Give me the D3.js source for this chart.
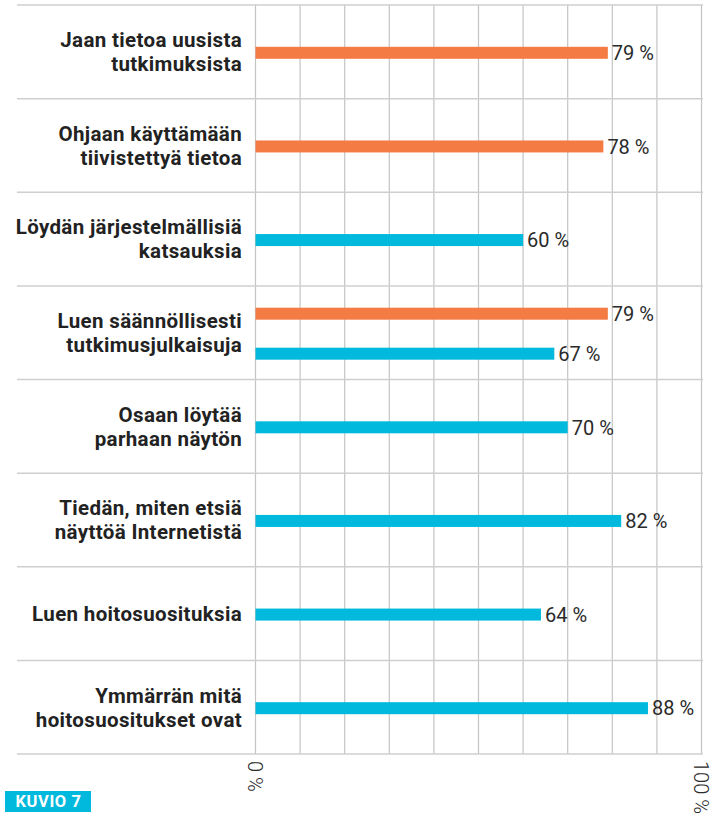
<!DOCTYPE html>
<html>
<head>
<meta charset="utf-8">
<script src="https://cdn.jsdelivr.net/npm/d3@7"></script>
<style>
  body { margin: 0; background: #fff; }
  svg { display: block; }
</style>
</head>
<body>
<div id="chart"></div>
<script>
// row labels, "\n" marks the line break
var categories = [
    "Jaan tietoa uusista\ntutkimuksista",
    "Ohjaan käyttämään\ntiivistettyä tietoa",
    "Löydän järjestelmällisiä\nkatsauksia",
    "Luen säännöllisesti\ntutkimusjulkaisuja",
    "Osaan löytää\nparhaan näytön",
    "Tiedän, miten etsiä\nnäyttöä Internetistä",
    "Luen hoitosuosituksia",
    "Ymmärrän mitä\nhoitosuositukset ovat"
];
var orangeValues = [79, 78, null, 79, null, null, null, null];
var blueValues   = [null, null, 60, 67, 70, 82, 64, 88];
var gridTicks = [0, 10, 20, 30, 40, 50, 60, 70, 80, 90, 100];
var axisLabels = [0, 100];
var figureTag = "KUVIO 7";

var W = 713, H = 817;
var orange = "#f47c44", blue = "#00b9dd";

var svg = d3.select("#chart").append("svg")
    .attr("width", W)
    .attr("height", H);

var x = d3.scaleLinear().domain([0, 100]).range([255.5, 701.5]);
var y = d3.scaleBand().domain(d3.range(categories.length)).range([5, 754]);

// vertical grid
svg.append("g").selectAll("line")
    .data(gridTicks)
    .join("line")
    .attr("x1", d => x(d)).attr("x2", d => x(d))
    .attr("y1", y.range()[0]).attr("y2", y.range()[1])
    .attr("stroke", "#c4c4c4")
    .attr("stroke-width", 1.2);

// row separators
var bounds = d3.range(categories.length + 1).map(i => 5 + i * y.step());
svg.append("g").selectAll("line")
    .data(bounds)
    .join("line")
    .attr("x1", 17).attr("x2", 703)
    .attr("y1", d => d).attr("y2", d => d)
    .attr("stroke", "#cfcfcf")
    .attr("stroke-width", 1.5);

// row labels
var labels = svg.append("g").selectAll("text")
    .data(categories)
    .join("text")
    .attr("text-anchor", "end")
    .attr("font-family", "Roboto, sans-serif")
    .attr("font-weight", "bold")
    .attr("font-size", 20.5)
    .attr("letter-spacing", 0.35)
    .attr("fill", "#222");

labels.each(function (d, i) {
    var lines = d.split("\n");
    var cy = y(i) + y.bandwidth() / 2;
    var start = cy - (lines.length - 1) * 12;
    d3.select(this).selectAll("tspan")
        .data(lines)
        .join("tspan")
        .attr("x", 242)
        .attr("y", (l, j) => start + j * 24)
        .attr("dy", "0.36em")
        .text(l => l);
});

// bars: build one list from both series
var bars = [];
categories.forEach(function (c, i) {
    var both = orangeValues[i] != null && blueValues[i] != null;
    var cy = y(i) + y.bandwidth() / 2 + 1;
    if (orangeValues[i] != null) bars.push({ v: orangeValues[i], c: orange, cy: both ? cy - 20 : cy });
    if (blueValues[i] != null) bars.push({ v: blueValues[i], c: blue, cy: both ? cy + 20 : cy });
});

var bh = 12;
svg.append("g").selectAll("rect")
    .data(bars)
    .join("rect")
    .attr("x", x(0))
    .attr("y", d => d.cy - bh / 2)
    .attr("width", d => x(d.v) - x(0))
    .attr("height", bh)
    .attr("fill", d => d.c);

svg.append("g").selectAll("text")
    .data(bars)
    .join("text")
    .attr("x", d => x(d.v) + 4)
    .attr("y", d => d.cy)
    .attr("dy", "0.36em")
    .attr("font-family", "Roboto, sans-serif")
    .attr("font-size", 20)
    .attr("fill", "#2a2a2a")
    .text(d => d.v + " %");

// rotated axis labels
svg.append("g").selectAll("text")
    .data(axisLabels)
    .join("text")
    .attr("transform", d => "translate(" + x(d) + ",761) rotate(90)")
    .attr("dy", "0.36em")
    .attr("font-family", "Roboto, sans-serif")
    .attr("font-weight", 300)
    .attr("font-size", 20)
    .attr("fill", "#2a2a2a")
    .text(d => d + " %");

// figure tag
svg.append("rect")
    .attr("x", 5).attr("y", 791)
    .attr("width", 86).attr("height", 21)
    .attr("fill", blue);
svg.append("text")
    .attr("x", 48.5).attr("y", 801.5)
    .attr("dy", "0.36em")
    .attr("text-anchor", "middle")
    .attr("font-family", "Roboto, sans-serif")
    .attr("font-weight", "bold")
    .attr("font-size", 16.5)
    .attr("letter-spacing", 0.6)
    .attr("fill", "#fff")
    .text(figureTag);
</script>
</body>
</html>
